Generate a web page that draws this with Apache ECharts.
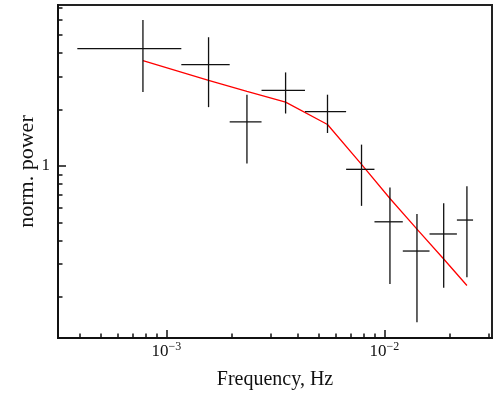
<!DOCTYPE html>
<html>
<head>
<meta charset="utf-8">
<script src="https://cdn.jsdelivr.net/npm/echarts@6/dist/echarts.min.js"></script>
<style>
html, body { margin: 0; padding: 0; background: #fff; }
#main { width: 499px; height: 395px; }
</style>
</head>
<body>
<div id="main"></div>
<script>
var myChart = echarts.init(document.getElementById('main'));

// frequency bins (Hz): centre, left edge, right edge
var freq   = [7.8e-4, 1.56e-3, 2.34e-3, 3.52e-3, 5.48e-3, 7.85e-3, 1.06e-2, 1.41e-2, 1.87e-2, 2.39e-2];
var freqLo = [3.9e-4, 1.17e-3, 1.95e-3, 2.73e-3, 4.32e-3, 6.67e-3, 9.0e-3, 1.214e-2, 1.61e-2, 2.15e-2];
var freqHi = [1.17e-3, 1.95e-3, 2.73e-3, 4.32e-3, 6.67e-3, 9.0e-3, 1.214e-2, 1.61e-2, 2.15e-2, 2.55e-2];

// normalised power with lower / upper error
var power   = [4.23, 3.47, 1.72, 2.53, 1.95, 0.96, 0.504, 0.352, 0.434, 0.515];
var powerLo = [2.48, 2.06, 1.03, 1.905, 1.50, 0.613, 0.235, 0.147, 0.224, 0.255];
var powerHi = [6.01, 4.86, 2.40, 3.155, 2.40, 1.30, 0.768, 0.554, 0.633, 0.780];

// model curve (red)
var model = [3.65, 2.86, 2.50, 2.19, 1.665, 1.02, 0.671, 0.461, 0.319, 0.2305];

// axis ticks
var xMajor = [1e-3, 1e-2];
var xMinor = [4e-4, 5e-4, 6e-4, 7e-4, 8e-4, 9e-4, 2e-3, 3e-3, 4e-3, 5e-3, 6e-3, 7e-3, 8e-3, 9e-3, 2e-2, 3e-2];
var yMajor = [1];
var yMinor = [0.2, 0.3, 0.4, 0.5, 0.6, 0.7, 0.8, 0.9, 2, 3, 4, 5, 6, 7];

var xMin = 3.18e-4, xMax = 3.115e-2;
var yMin = 0.121, yMax = 7.22;

var font = 'Liberation Serif';
var ink = '#111';

var errData = freq.map(function (f, i) {
    return [f, power[i], freqLo[i], freqHi[i], powerLo[i], powerHi[i]];
});
var modelData = freq.map(function (f, i) { return [f, model[i]]; });

function renderErr(params, api) {
    var c = api.coord([api.value(0), api.value(1)]);
    var l = api.coord([api.value(2), api.value(1)]);
    var r = api.coord([api.value(3), api.value(1)]);
    var b = api.coord([api.value(0), api.value(4)]);
    var t = api.coord([api.value(0), api.value(5)]);
    var st = { stroke: ink, lineWidth: 1.3 };
    return {
        type: 'group',
        children: [
            { type: 'line', shape: { x1: l[0], y1: c[1], x2: r[0], y2: c[1] }, style: st },
            { type: 'line', shape: { x1: c[0], y1: t[1], x2: c[0], y2: b[1] }, style: st }
        ]
    };
}

var majorTick = { show: true, inside: true, length: 8, lineStyle: { color: ink, width: 1.5 } };
var minorTick = { show: true, inside: true, length: 4.5, lineStyle: { color: ink, width: 1.5 } };

myChart.setOption({
    animation: false,
    grid: {
        left: 58, right: 7, top: 5, bottom: 56,
        show: true, borderColor: '#222', borderWidth: 2, backgroundColor: '#fff'
    },
    xAxis: [
        {
            type: 'log', min: xMin, max: xMax, position: 'bottom',
            name: 'Frequency, Hz', nameLocation: 'middle', nameGap: 32, nameMoveOverlap: false,
            nameTextStyle: { fontFamily: font, fontSize: 20, color: ink },
            axisLine: { show: true, onZero: false, lineStyle: { color: ink, width: 2 } },
            axisTick: Object.assign({ customValues: xMajor }, majorTick),
            axisLabel: {
                customValues: xMajor, margin: 3, color: ink,
                formatter: function (v) {
                    var e = Math.round(Math.log10(v));
                    return '{b|10}{s|\u2212' + Math.abs(e) + '}';
                },
                rich: {
                    b: { fontFamily: font, fontSize: 17, color: ink, lineHeight: 19, verticalAlign: 'bottom' },
                    s: { fontFamily: font, fontSize: 12, color: ink, lineHeight: 12, verticalAlign: 'top' }
                }
            },
            splitLine: { show: false }
        },
        {
            type: 'log', min: xMin, max: xMax, position: 'bottom', gridIndex: 0,
            axisLine: { show: false, onZero: false },
            axisTick: Object.assign({ customValues: xMinor }, minorTick),
            axisLabel: { show: false },
            splitLine: { show: false }
        }
    ],
    yAxis: [
        {
            type: 'log', min: yMin, max: yMax, position: 'left',
            name: 'norm. power', nameLocation: 'middle', nameGap: 20, nameMoveOverlap: false,
            nameTextStyle: { fontFamily: font, fontSize: 22, color: ink },
            axisLine: { show: true, onZero: false, lineStyle: { color: ink, width: 2 } },
            axisTick: Object.assign({ customValues: yMajor }, majorTick),
            axisLabel: { customValues: yMajor, margin: 8, fontFamily: font, fontSize: 17, color: ink },
            splitLine: { show: false }
        },
        {
            type: 'log', min: yMin, max: yMax, position: 'left', gridIndex: 0,
            axisLine: { show: false, onZero: false },
            axisTick: Object.assign({ customValues: yMinor }, minorTick),
            axisLabel: { show: false },
            splitLine: { show: false }
        }
    ],
    series: [
        {
            type: 'line', data: modelData, xAxisIndex: 0, yAxisIndex: 0,
            symbol: 'none', lineStyle: { color: '#ff0000', width: 1.3 }, z: 3
        },
        {
            type: 'custom', data: errData, xAxisIndex: 0, yAxisIndex: 0,
            renderItem: renderErr, encode: { x: 0, y: 1 }, z: 4
        }
    ]
});
</script>
</body>
</html>
